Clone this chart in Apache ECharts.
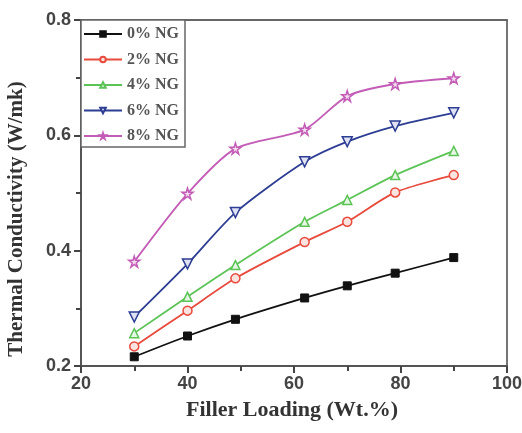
<!DOCTYPE html>
<html>
<head>
<meta charset="utf-8">
<script src="https://cdn.jsdelivr.net/npm/echarts@6/dist/echarts.min.js"></script>
<style>
  html, body { margin: 0; padding: 0; background: #fff; }
  #chart { width: 522px; height: 433px; }
</style>
</head>
<body>
<div id="chart"></div>
<script>
// Filler loading (wt.%) at which conductivity was measured
const fillerLoading = [30, 40, 49, 62, 70, 79, 90];

// Thermal conductivity (W/mK) for each nano-graphite (NG) content
const ng0 = [0.216, 0.252, 0.281, 0.318, 0.339, 0.361, 0.388];
const ng2 = [0.234, 0.296, 0.352, 0.415, 0.450, 0.501, 0.531];
const ng4 = [0.257, 0.320, 0.375, 0.450, 0.488, 0.531, 0.573];
const ng6 = [0.285, 0.377, 0.466, 0.554, 0.589, 0.616, 0.639];
const ng8 = [0.381, 0.499, 0.577, 0.610, 0.668, 0.689, 0.699];

const seriesNames = ['0% NG', '2% NG', '4% NG', '6% NG', '8% NG'];
const xTitle = 'Filler Loading (Wt.%)';
const yTitle = 'Thermal Conductivity (W/mk)';

const STAR = 'path://M50,0 L61,35 L98,35 L68,57 L79,92 L50,70 L21,92 L32,57 L2,35 L39,35 Z';

function pairs(vals) {
  return fillerLoading.map((x, i) => [x, vals[i]]);
}

function makeSeries(name, vals, color, symbol, opts) {
  opts = opts || {};
  return {
    name: name,
    type: 'line',
    data: pairs(vals),
    smooth: 0.25,
    symbol: symbol,
    symbolSize: opts.size || 9,
    symbolRotate: opts.rotate || 0,
    lineStyle: { color: color, width: 1.8 },
    itemStyle: {
      color: opts.fill || color,
      borderColor: color,
      borderWidth: opts.bw == null ? 1.5 : opts.bw
    },
    emphasis: { disabled: true }
  };
}

const chart = echarts.init(document.getElementById('chart'), null, { renderer: 'canvas' });

function labelFont() {
  return {
    fontFamily: 'Liberation Sans, Arial, sans-serif',
    fontWeight: 'bold',
    fontSize: 18,
    color: '#444'
  };
}
function titleFont(size) {
  return {
    fontFamily: 'Liberation Serif, Times New Roman, serif',
    fontWeight: 'bold',
    fontSize: size,
    fill: '#333'
  };
}

const frameLine = { show: true, onZero: false, lineStyle: { color: '#666', width: 1.8 } };
const tickStyle = { color: '#444', width: 2 };

// Bottom/left axes carry ticks and labels; top/right axes only close the frame
chart.setOption({
  animation: false,
  backgroundColor: '#fff',
  grid: {
    left: 81, right: 15, top: 20, bottom: 67,
    outerBoundsMode: 'none',
    show: false
  },
  legend: {
    data: seriesNames,
    orient: 'vertical',
    left: 81, top: 20,
    itemWidth: 38, itemHeight: 7, itemGap: 9.5,
    padding: [6, 6, 3, 2],
    borderColor: '#666', borderWidth: 1.5,
    backgroundColor: '#fff',
    textStyle: {
      fontFamily: 'Liberation Serif, Times New Roman, serif',
      fontWeight: 'bold', fontSize: 16, color: '#555'
    }
  },
  xAxis: [
    {
      type: 'value', position: 'bottom',
      min: 20, max: 100, interval: 20,
      axisLine: { show: true, onZero: false, lineStyle: { color: '#555', width: 2 } },
      axisTick: { show: true, inside: false, length: 7, lineStyle: tickStyle },
      minorTick: { show: true, splitNumber: 2, length: 5, lineStyle: tickStyle },
      splitLine: { show: false },
      axisLabel: Object.assign({ show: true, margin: 9 }, labelFont())
    },
    {
      type: 'value', position: 'top',
      min: 20, max: 100, interval: 20,
      axisLine: frameLine,
      axisTick: { show: false }, axisLabel: { show: false }, splitLine: { show: false }
    }
  ],
  yAxis: [
    {
      type: 'value', position: 'left',
      min: 0.2, max: 0.8, interval: 0.2,
      axisLine: { show: true, onZero: false, lineStyle: { color: '#555', width: 2 } },
      axisTick: { show: true, inside: false, length: 7, lineStyle: tickStyle },
      minorTick: { show: true, splitNumber: 2, length: 5, lineStyle: tickStyle },
      splitLine: { show: false },
      axisLabel: Object.assign({
        show: true,
        margin: 10,
        formatter: v => v.toFixed(1)
      }, labelFont())
    },
    {
      type: 'value', position: 'right',
      min: 0.2, max: 0.8, interval: 0.2,
      axisLine: frameLine,
      axisTick: { show: false }, axisLabel: { show: false }, splitLine: { show: false }
    }
  ],
  graphic: [
    {
      type: 'text', x: 292, y: 410,
      style: Object.assign({ text: xTitle, align: 'center', verticalAlign: 'middle' }, titleFont(22))
    },
    {
      type: 'text', x: 17, y: 219, rotation: Math.PI / 2,
      style: Object.assign({ text: yTitle, align: 'center', verticalAlign: 'middle' }, titleFont(21))
    }
  ],
  series: [
    makeSeries(seriesNames[0], ng0, '#111111', 'rect', { size: 8, bw: 1 }),
    makeSeries(seriesNames[1], ng2, '#e84a3c', 'circle', { fill: '#fbe3df' }),
    makeSeries(seriesNames[2], ng4, '#5cc456', 'triangle', { fill: '#e6f6e4' }),
    makeSeries(seriesNames[3], ng6, '#2d3d93', 'triangle', { rotate: 180, fill: '#dfe2f3', size: 10 }),
    makeSeries(seriesNames[4], ng8, '#c35cb6', STAR, { fill: '#f3dcef', size: 11 })
  ]
});
</script>
</body>
</html>
